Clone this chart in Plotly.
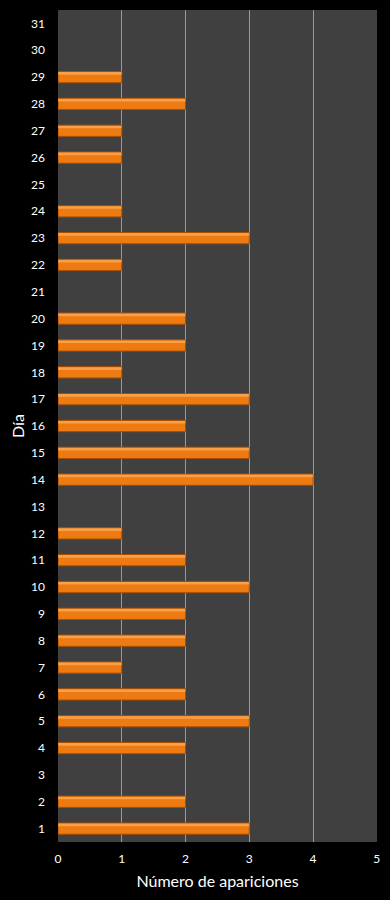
import plotly.graph_objects as go

days = [str(d) for d in range(1, 32)]
counts = [3, 2, 0, 2, 3, 2, 1, 2, 2, 3, 2, 1, 0, 4, 3, 2, 3, 1, 2, 2, 0, 1, 3, 1, 0, 1, 1, 2, 1, 0, 0]
x_ticks = [0, 1, 2, 3, 4, 5]

line_w = [1 if c > 0 else 0 for c in counts]

fig = go.Figure()
fig.add_trace(go.Bar(
    x=counts, y=days, orientation="h", width=0.42,
    marker=dict(color="#EE7A12", line=dict(color="#A84E00", width=line_w)),
    showlegend=False,
))
fig.add_trace(go.Bar(
    x=counts, y=days, orientation="h", width=0.1, offset=0.09,
    marker=dict(color="rgba(255,185,110,0.6)", line=dict(width=0)),
    showlegend=False, hoverinfo="skip",
))
fig.update_layout(
    width=390, height=900,
    margin=dict(l=58, r=13, t=10, b=58),
    paper_bgcolor="black", plot_bgcolor="#404040",
    barmode="overlay",
    font=dict(family="Lato, Open Sans, sans-serif", color="white", size=12),
    xaxis=dict(range=[0, 5.004], tickvals=x_ticks, showgrid=True, gridcolor="#9A9A9A",
               gridwidth=1, zeroline=False, ticks="", showline=False,
               ticklabelstandoff=8,
               title=dict(text="Número de apariciones", font=dict(size=16), standoff=10),
               tickfont=dict(size=12)),
    yaxis=dict(type="category", categoryorder="array", categoryarray=days,
               range=[-0.5, 30.5], showgrid=False, ticks="", ticklabelstandoff=12,
               title=dict(text="Día", font=dict(size=16), standoff=2),
               tickfont=dict(size=12)),
)
fig.write_html("out.html", config={"displayModeBar": False},
               post_script="document.body.style.margin='0';")
